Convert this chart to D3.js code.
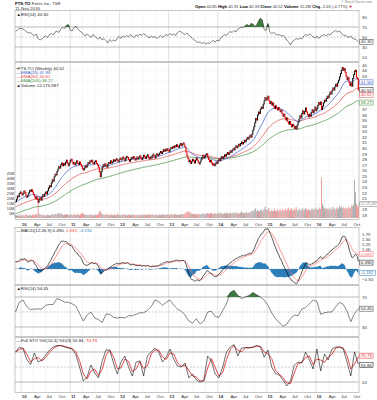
<!DOCTYPE html>
<html>
<head>
<meta charset="utf-8">
<script src="https://cdn.jsdelivr.net/npm/d3@7/dist/d3.min.js"></script>
<style>
  body { margin: 0; background: #fff; }
  svg { display: block; font-family: "Liberation Sans", Arial, sans-serif; }
  .lbl { font-size: 4.4px; fill: #333; }
</style>
</head>
<body>
<svg id="chart" width="377" height="400"></svg>
<script>
// ---- data (weekly) ----
var firstWeek = "2009-11-20";

var closes = [
  20.4, 20.9, 21.5, 21.3, 21.9, 22.2,
  22.0, 21.6, 21.9, 22.4, 22.1, 21.5, 21.2, 21.6, 22.0, 22.5, 22.3, 22.6, 22.2,
  21.8, 21.4, 21.0, 21.3, 20.8, 20.3, 20.9, 21.2, 20.7,
  21.3, 21.7, 21.4, 21.9, 22.2, 21.8, 22.4,
  22.9, 23.3, 23.1, 23.8, 24.4, 24.1, 24.9, 25.4, 25.2, 25.9, 26.3,
  26.8, 26.5, 27.1, 27.4, 26.9, 27.3, 27.0,
  27.5, 27.9, 27.3, 26.9, 27.4, 27.8, 28.1, 27.6,
  27.2, 27.5, 27.0, 27.4, 27.8, 27.3, 27.1, 27.6, 27.2, 26.8,
  26.4, 26.1, 26.5, 26.9, 26.6,
  27.1, 27.5, 27.3, 27.8, 27.6, 27.9, 27.4, 27.2, 27.6, 27.8, 27.3, 27.0, 26.6,
  25.8, 24.9, 25.9,
  26.6, 27.1, 26.8, 27.3, 27.0, 26.6, 27.2, 27.5, 27.3, 27.8, 27.4, 27.6, 28.0, 27.7, 27.9, 28.2, 27.8,
  27.6, 28.0, 28.3, 27.9, 28.1, 28.5, 28.2, 27.8, 28.3, 28.6, 28.4, 28.0, 27.7, 28.1, 28.4, 28.2, 28.6, 28.3, 27.9, 28.2, 28.5, 28.1,
  28.4, 28.7, 28.3, 28.0, 28.4, 28.8, 28.5, 28.2, 28.6, 28.9, 28.4, 28.1, 28.5, 28.3, 28.7, 29.0, 28.6, 28.3, 28.8, 29.1, 28.7, 28.9,
  29.2, 29.5, 29.1, 29.4, 29.8, 29.5, 29.9, 29.6, 30.0, 29.7, 29.4, 29.9, 30.2,
  30.0, 30.4, 30.1, 30.5, 30.3, 30.7, 30.4, 30.2, 30.6, 30.9, 30.5, 30.8, 31.0, 30.6, 30.2,
  29.4, 28.7, 28.2, 27.6, 27.9, 27.3, 27.7,
  28.1, 27.8, 27.4, 27.9, 28.3, 27.9, 27.5, 27.2, 27.6, 28.0, 28.4, 28.8, 28.3,
  28.6, 28.9, 29.1, 28.5, 28.0, 27.6, 27.9, 27.4, 27.0, 27.3, 26.9, 27.2, 27.6, 27.3, 27.8,
  28.1, 27.8, 28.3, 28.6, 28.2, 28.5, 28.9, 28.6, 29.0, 29.3, 28.9, 29.2, 29.6, 29.3, 29.7,
  30.0, 29.7, 30.2, 30.5, 30.1, 30.4, 30.8, 30.5, 30.9, 31.2, 30.8, 31.1, 31.5, 31.2, 31.6, 32.0, 31.7, 32.1, 32.4, 32.0,
  32.6, 33.3, 33.9, 34.6, 35.4, 35.1, 36.0, 36.6,
  36.3, 37.1, 37.5, 37.2, 38.0, 38.6, 39.2, 38.7,
  39.0, 39.4, 38.6, 38.1, 38.5, 37.8, 38.2, 37.6, 37.2, 37.7, 37.3, 36.9, 37.4, 37.0,
  36.6, 36.9, 36.3, 35.8, 36.2, 35.6, 35.1, 35.5, 34.8, 34.4, 34.9, 34.3, 33.9, 34.4, 34.1,
  33.6, 34.0, 33.5, 34.2, 34.7,
  35.3, 35.9, 35.5, 36.3, 36.8, 36.2, 36.7, 37.3, 36.6, 36.1,
  35.7, 36.2, 35.8, 36.5, 37.0, 36.4, 36.9, 37.5, 36.8, 37.2,
  37.8, 38.3, 37.9, 38.4, 37.0, 37.6, 38.2, 38.7, 38.5, 39.0,
  39.4, 39.1, 39.7, 40.2, 39.8, 40.4, 40.9, 40.5, 41.1, 41.6, 41.2, 41.8, 42.3, 42.9, 43.5,
  44.1, 44.6, 44.0, 44.4, 43.7,
  43.0, 42.4, 42.8, 41.9, 41.3, 41.8, 41.2,
  42.6, 43.3, 43.9, 44.1,
  42.8, 42.55, 40.52
];

// weekly volume, millions
var volumes = [
  3.1, 2.4, 2.8, 2.2, 3.5, 1.9,
  2.6, 3.3, 2.1, 2.9, 2.4, 3.8, 3.0, 2.5, 2.2, 3.1, 2.7, 2.3, 2.9,
  3.4, 2.6, 4.1, 2.8, 3.6, 22.5, 4.4, 3.1, 3.7,
  2.9, 2.4, 3.2, 2.6, 2.1, 2.8, 3.3,
  3.0, 2.7, 2.5, 3.6, 3.9, 2.8, 3.4, 4.2, 3.1, 3.8, 4.5,
  5.2, 3.6, 3.9, 4.8, 3.3, 2.9, 3.5,
  3.2, 4.0, 3.7, 2.8, 3.1, 2.6, 3.9, 2.7,
  3.4, 2.9, 3.8, 3.2, 2.7, 4.1, 3.3, 2.8, 3.5, 4.3,
  5.1, 4.2, 3.6, 3.1, 2.9,
  3.3, 2.7, 3.0, 3.9, 2.6, 3.4, 2.8, 3.1, 2.5, 3.7, 2.9, 3.5, 4.0,
  6.2, 7.4, 4.8,
  3.9, 3.2, 3.6, 2.9, 3.4, 4.1, 3.0, 2.7, 3.3, 2.8, 3.6, 3.1, 2.6, 3.8, 2.4, 3.2, 4.4,
  3.5, 2.9, 3.1, 2.6, 3.7, 2.8, 3.3, 4.0, 2.7, 3.2, 2.5, 3.6, 2.9, 3.4, 2.6, 3.1, 3.8, 2.7, 3.0, 2.4, 3.3, 2.8,
  3.0, 2.6, 3.4, 2.9, 3.7, 2.5, 3.2, 2.8, 3.5, 2.7, 3.1, 4.2, 2.9, 3.3, 2.6, 3.8, 3.0, 2.4, 3.6, 2.7, 3.2, 2.3,
  3.6, 3.1, 2.8, 3.9, 3.3, 2.7, 3.5, 3.0, 4.1, 3.2, 2.9, 3.7, 3.4,
  3.8, 3.1, 2.9, 4.3, 3.5, 3.0, 3.7, 2.8, 3.4, 3.9, 3.2, 4.0, 3.6, 3.3, 4.5,
  5.8, 6.4, 5.2, 6.9, 4.7, 5.5, 4.3,
  4.0, 3.6, 4.4, 3.5, 3.9, 3.2, 4.6, 3.8, 3.4, 4.1, 3.7, 4.9, 3.6,
  4.2, 3.8, 4.5, 5.1, 4.4, 3.9, 4.8, 5.3, 4.1, 3.7, 5.0, 4.6, 3.9, 4.3, 5.6,
  4.8, 4.2, 5.4, 4.5, 3.9, 4.7, 5.1, 4.3, 5.8, 4.6, 4.0, 4.9, 5.5, 4.4, 4.8,
  5.2, 4.6, 5.9, 4.3, 4.8, 5.5, 4.1, 4.7, 5.3, 6.8, 4.9, 5.4, 4.5, 5.1, 6.0, 4.8, 5.6, 5.0, 6.3, 5.7,
  6.9, 7.8, 6.2, 8.5, 9.7, 6.4, 8.0, 7.3,
  6.6, 7.9, 8.8, 6.5, 7.6, 9.2, 11.5, 8.3,
  7.4, 8.6, 9.9, 7.0, 6.4, 8.1, 7.2, 6.8, 9.4, 6.6, 7.5, 8.7, 6.2, 7.7,
  8.4, 6.9, 7.8, 9.1, 6.5, 8.2, 9.6, 7.1, 8.9, 10.4, 7.3, 8.6, 9.8, 7.0, 8.1,
  9.3, 7.6, 10.8, 8.2, 7.4,
  8.8, 9.5, 7.2, 8.4, 9.9, 7.7, 8.3, 10.2, 8.9, 7.5,
  9.1, 8.0, 7.3, 8.7, 9.6, 7.9, 8.5, 10.1, 8.2, 9.4,
  9.0, 8.3, 10.6, 8.8, 40.5, 14.2, 11.3, 9.7, 8.6, 10.1,
  8.7, 9.3, 7.9, 10.4, 8.5, 9.1, 11.2, 8.3, 9.8, 7.6, 10.7, 8.9, 9.5, 12.1, 10.3,
  11.4, 9.6, 10.8, 8.7, 9.9,
  10.5, 8.8, 9.7, 11.6, 9.2, 10.3, 12.4,
  11.8, 13.5, 38.2, 25.6,
  14.1, 11.3, 12.2
];

// top RSI panel, one value every second week
var rsiTop = [
  61, 64, 67, 67, 66, 63, 60, 58, 59, 55, 53, 56, 47, 44, 46, 50, 52, 49, 55, 57, 54, 60, 62, 59,
  66, 69, 67, 73, 75, 64, 62, 69, 71, 67, 62, 60, 55, 52, 56, 53, 49, 55, 52, 48, 46, 50, 44, 47,
  43, 38, 45, 41, 44, 42, 48, 51, 47, 52, 50, 53, 50, 55, 51, 49, 54, 52, 56, 53, 57, 54, 51, 48,
  52, 49, 51, 47, 50, 53, 49, 52, 55, 53, 57, 54, 56, 53, 59, 62, 60, 57, 55, 58, 54, 50, 47, 44,
  41, 39, 40, 37, 39, 36, 38, 37, 41, 43, 40, 44, 42, 48, 52, 55, 53, 58, 61, 59, 63, 60, 66, 68,
  70, 69, 73, 75, 72, 77, 76, 71, 74, 82, 88, 84, 65, 63, 77, 60, 57, 59, 56, 54, 55, 52, 53, 50,
  44, 40, 34, 41, 44, 47, 45, 48, 46, 52, 55, 53, 56, 54, 50, 48, 52, 47, 51, 53, 55, 52, 56, 54,
  58, 61, 63, 60, 62, 57, 54, 53, 51, 49, 52, 47, 46, 44, 40.3
];

// lower RSI panel, one value every fourth week
var rsiLow = [
  50, 63, 66, 57, 53, 54, 54, 54, 59, 60, 60, 68, 66, 63, 63, 61, 58, 48, 38, 46, 50, 42, 40, 36,
  47, 47, 43, 42, 43, 42, 45, 45, 47, 49, 49, 52, 57, 66, 64, 59, 63, 66, 59, 54, 51, 46, 38, 35,
  41, 34, 38, 50, 51, 44, 43, 52, 61, 76, 79, 72, 68, 70, 72, 76, 73, 70, 66, 59, 49, 41, 36, 31,
  34, 41, 46, 45, 54, 56, 61, 66, 64, 47, 49, 50, 50, 57, 63, 60, 51, 37, 48, 54.45
];

// full stochastics %K, one value every fourth week
var stoK = [
  80, 90, 86, 65, 55, 78, 60, 64, 74, 84, 90, 93, 93, 90, 88, 86, 75, 50, 22, 30, 54, 38, 28, 62,
  84, 84, 58, 36, 60, 72, 50, 32, 60, 62, 32, 72, 80, 88, 80, 60, 70, 86, 66, 52, 50, 58, 28, 36,
  24, 20, 24, 72, 62, 36, 28, 50, 80, 90, 95, 72, 88, 89, 88, 90, 93, 90, 70, 84, 50, 37, 34, 24,
  12, 22, 54, 60, 58, 80, 64, 46, 86, 42, 76, 64, 86, 90, 90, 86, 60, 32, 80, 55.84
];

// indicator seeds (values at the left edge of the picture)
var emaSeeds = { e20: 20.4, e50: 19.5, e100: 18.2, e12: 20.9, e26: 20.45, sig: 0.35 };

// axis labels
var priceTicks = [18, 19, 20, 21, 22, 23, 24, 25, 26, 27, 28, 29, 30, 31, 32, 33, 34, 35, 36, 37, 38, 39, 40, 41, 42, 43, 44, 45];
var volTicks = [5, 10, 15, 20, 25, 30, 35, 40, 45];
var macdTicks = [1.75, 1.5, 1.25, 1.0, 0.75, 0.5, 0.25, 0.0, -0.25, -0.5];
var rsiTopTicks = [90, 70, 50, 30, 10];
var rsiTicks = [70, 50, 30];
var stoTicks = [80, 50, 20];

// ---- layout ----
var svg = d3.select("#chart");
var defs = svg.append("defs");
var X0 = 15, X1 = 359;

var parseDate = d3.timeParse("%Y-%m-%d");
var start = parseDate(firstWeek);
var n = Math.min(closes.length, volumes.length);
var dates = d3.range(n).map(function(i) { return d3.timeDay.offset(start, 7 * i); });
// sampled series sit on every 2nd / 4th week; last sample on the last week
function sampleDate(k, step, len) {
  return k === len - 1 ? dates[n - 1] : dates[Math.min(n - 1, k * step)];
}

var x = d3.scaleTime()
  .domain([parseDate("2009-11-16"), parseDate("2016-11-16")])
  .range([X0, X1]);

var quarters = d3.timeMonth.every(3).range(parseDate("2010-01-01"), parseDate("2016-11-01"));

var yRsiTop = d3.scaleLinear().domain([70, 30]).range([27, 47]);
var yPrice = d3.scaleLinear().domain([44, 22]).range([70.7, 193]);
var yVol = d3.scaleLinear().domain([0, 40]).range([218, 178]);
var yMacd = d3.scaleLinear().domain([0, 1]).range([269, 249]);
var yRsi = d3.scaleLinear().domain([70, 30]).range([297, 327]);
var ySto = d3.scaleLinear().domain([80, 20]).range([352, 382]);

// ---- indicators ----
function ema(vals, len, seed) {
  var k = 2 / (len + 1), prev = seed;
  return vals.map(function(v) { prev = v * k + prev * (1 - k); return prev; });
}

var c = closes.slice(0, n);
var ema20 = ema(c, 20, emaSeeds.e20);
var ema50 = ema(c, 50, emaSeeds.e50);
var ema100 = ema(c, 100, emaSeeds.e100);
var e12 = ema(c, 12, emaSeeds.e12), e26 = ema(c, 26, emaSeeds.e26);
var macd = e12.map(function(v, i) { return v - e26[i]; });
var signal = ema(macd, 9, emaSeeds.sig);
var hist = macd.map(function(v, i) { return v - signal[i]; });
// %D: average of the current and previous %K sample
var stoD = stoK.map(function(v, k) { return k ? (v + stoK[k - 1]) / 2 : v; });
stoD[stoD.length - 1] = 70.73;

// ---- helpers ----
function addPanel(id, top, bottom) {
  svg.append("rect")
    .attr("x", X0).attr("y", top)
    .attr("width", X1 - X0).attr("height", bottom - top)
    .attr("fill", "#fff").attr("stroke", "#a0a0a0").attr("stroke-width", 0.6);
  defs.append("clipPath").attr("id", id)
    .append("rect").attr("x", X0).attr("y", top).attr("width", X1 - X0).attr("height", bottom - top);
  var g = svg.append("g").attr("clip-path", "url(#" + id + ")");
  quarters.forEach(function(q) {
    var isYear = q.getMonth() === 0;
    g.append("line")
      .attr("x1", x(q)).attr("x2", x(q)).attr("y1", top).attr("y2", bottom)
      .attr("stroke", isYear ? "#c4c4c4" : "#dedede")
      .attr("stroke-width", 0.5)
      .attr("stroke-dasharray", isYear ? null : "1,1");
  });
  return g;
}
function hLine(g, y, style) {
  g.append("line").attr("x1", X0).attr("x2", X1).attr("y1", y).attr("y2", y)
    .attr("stroke", style === "solid" ? "#8c8c8c" : (style === "dash" ? "#9a9a9a" : "#e4e4e4"))
    .attr("stroke-width", style === "solid" ? 0.6 : 0.5)
    .attr("stroke-dasharray", style === "solid" ? null : (style === "dash" ? "2,1.5" : "1,1"));
}
// tick labels on the right; skip the ones hidden under value boxes
function rightLabels(scale, ticks, fmt, boxes) {
  ticks.forEach(function(t) {
    var y = scale(t);
    var hidden = (boxes || []).some(function(b) { return Math.abs(b - y) < 4.4; });
    if (hidden) return;
    svg.append("text").attr("class", "lbl")
      .attr("x", X1 + 3).attr("y", y + 1.5).text(fmt ? fmt(t) : t);
  });
}
function valueBox(y, txt, col, size) {
  var fs = size || 4.4;
  var w = txt.length * fs * 0.51 + 2;
  svg.append("rect").attr("x", X1 + 0.8).attr("y", y - 2.5).attr("width", w).attr("height", 5)
    .attr("fill", "#fff").attr("stroke", col).attr("stroke-width", 0.5);
  svg.append("text").attr("class", "lbl").attr("x", X1 + 1.8).attr("y", y + 1.5)
    .style("fill", col).style("font-size", fs + "px").text(txt);
}
function panelLabel(y, parts) {
  var t = svg.append("text").attr("class", "lbl").attr("x", X0 + 1.5).attr("y", y);
  parts.forEach(function(p) {
    t.append("tspan").style("fill", p[1] || "#222").text(p[0]);
  });
}
function xLabels(y) {
  var fy = d3.timeFormat("%y"), fm = d3.timeFormat("%b");
  quarters.forEach(function(q) {
    var isYear = q.getMonth() === 0;
    svg.append("text").attr("class", "lbl")
      .attr("x", x(q) + 0.6).attr("y", y)
      .style("font-weight", isYear ? "bold" : "normal")
      .text(isYear ? fy(q) : fm(q));
  });
}
var lineOf = function(scale, arr) {
  return d3.line().x(function(d, i) { return x(dates[i]); }).y(function(d) { return scale(d); })(arr);
};
var sampledLine = function(scale, arr, step) {
  return d3.line()
    .x(function(d, k) { return x(sampleDate(k, step, arr.length)); })
    .y(function(d) { return scale(d); })(arr);
};
var sampledFill = function(scale, arr, step, level) {
  return d3.area()
    .x(function(d, k) { return x(sampleDate(k, step, arr.length)); })
    .y0(scale(level))
    .y1(function(d) { return scale(Math.max(d, level)); })(arr);
};

// ---- header ----
var head = svg.append("text").attr("class", "lbl").attr("x", X0).attr("y", 4.6);
head.append("tspan").style("font-weight", "bold").style("fill", "#000").text("FTS.TO ");
head.append("tspan").text("Fortis Inc.  TSE");
svg.append("text").attr("class", "lbl").attr("x", X0).attr("y", 9.6).text("11-Nov-2016");
svg.append("text").attr("class", "lbl").attr("x", X1 - 18).attr("y", 3.2)
  .style("font-size", "3.6px").style("fill", "#888").text("\u00a9 StockCharts.com");
var info = svg.append("text").attr("class", "lbl").attr("x", 195).attr("y", 8.2).style("font-size", "4.1px");
[["Open", "40.85"], ["High", "40.91"], ["Low", "40.33"], ["Close", "40.52"], ["Volume", "12.2M"], ["Chg", "-2.03 (-4.77%)"]]
  .forEach(function(p) {
    info.append("tspan").style("font-weight", "bold").style("fill", "#000").text(p[0] + " ");
    info.append("tspan").text(p[1] + "  ");
  });
info.append("tspan").style("fill", "#d00").text("\u25bc");

// ---- top RSI panel ----
var gTop = addPanel("cTop", 10.5, 61.5);
hLine(gTop, yRsiTop(70), "solid");
hLine(gTop, yRsiTop(50), "dash");
hLine(gTop, yRsiTop(30), "solid");
gTop.append("path").attr("d", sampledFill(yRsiTop, rsiTop, 2, 70)).attr("fill", "#3f7a3f");
gTop.append("path").attr("d", sampledLine(yRsiTop, rsiTop, 2))
  .attr("fill", "none").attr("stroke", "#333").attr("stroke-width", 0.6);
rightLabels(yRsiTop, rsiTopTicks, null, [yRsiTop(40.3)]);
valueBox(yRsiTop(40.3), "40.30", "#333");
panelLabel(15.5, [["\u25b2RSI(14) 40.30"]]);

// ---- price panel ----
var gP = addPanel("cPrice", 62.5, 219.5);
priceTicks.filter(function(t) { return t % 2 === 0; }).forEach(function(t) { hLine(gP, yPrice(t), "dot"); });

gP.selectAll(".vol").data(volumes.slice(0, n)).enter().append("rect")
  .attr("class", "vol")
  .attr("x", function(d, i) { return x(dates[i]) - 0.45; })
  .attr("width", 0.9)
  .attr("y", function(d) { return yVol(d); })
  .attr("height", function(d) { return yVol(0) - yVol(d); })
  .attr("fill", function(d, i) { return i > 0 && c[i] < c[i - 1] ? "#ef8f8f" : "#a8a8a8"; });

gP.append("path").attr("d", lineOf(yPrice, ema100)).attr("fill", "none").attr("stroke", "#3a8a3a").attr("stroke-width", 0.7);
gP.append("path").attr("d", lineOf(yPrice, ema50)).attr("fill", "none").attr("stroke", "#e04848").attr("stroke-width", 0.7);
gP.append("path").attr("d", lineOf(yPrice, ema20)).attr("fill", "none").attr("stroke", "#3555c8").attr("stroke-width", 0.7);

gP.selectAll(".bar").data(c).enter().append("line")
  .attr("class", "bar")
  .attr("x1", function(d, i) { return x(dates[i]); })
  .attr("x2", function(d, i) { return x(dates[i]); })
  .attr("y1", function(d, i) { return yPrice(i ? c[i - 1] : d) + (i && c[i - 1] > d ? -0.4 : 0.4); })
  .attr("y2", function(d, i) { return yPrice(d) + (i && c[i - 1] > d ? 0.4 : -0.4); })
  .attr("stroke", function(d, i) { return i > 0 && d < c[i - 1] ? "#e00000" : "#111"; })
  .attr("stroke-width", 1.1);

var volBoxY = yVol(12.2) - 2;
var priceBoxes = [yPrice(41.9), yPrice(40.52), yPrice(40.61) + 5.2, yPrice(38.27)];
rightLabels(yPrice, priceTicks, null, priceBoxes.concat([volBoxY]));
volTicks.forEach(function(t) {
  svg.append("text").attr("class", "lbl").attr("x", X0 - 0.8).attr("y", yVol(t) + 1.5)
    .attr("text-anchor", "end").style("font-size", "3.8px").text(t + "M");
});
valueBox(priceBoxes[0], "41.90", "#3555c8");
valueBox(priceBoxes[1], "40.52", "#111");
valueBox(priceBoxes[2], "40.61", "#e04848");
valueBox(priceBoxes[3], "38.27", "#3a8a3a");
valueBox(volBoxY, "12,175,587", "#777", 3.2);

panelLabel(69.8, [["\u25aaFTS.TO (Weekly) 40.52"]]);
panelLabel(74.0, [["\u2014EMA(20) 41.90", "#3555c8"]]);
panelLabel(78.2, [["\u2014EMA(50) 40.61", "#e04848"]]);
panelLabel(82.4, [["\u2014EMA(100) 38.27", "#3a8a3a"]]);
panelLabel(86.6, [["\u25b2Volume 12,175,587"]]);

xLabels(225.5);

// ---- MACD panel ----
var gM = addPanel("cMacd", 227.5, 284.5);
[1.5, 1.0, 0.5, -0.5].forEach(function(t) { hLine(gM, yMacd(t), "dot"); });
hLine(gM, yMacd(0), "dash");
gM.append("path")
  .attr("d", d3.area()
    .x(function(d, i) { return x(dates[i]); })
    .y0(yMacd(0))
    .y1(function(d) { return yMacd(d); })(hist))
  .attr("fill", "#2c7db8");
gM.append("path").attr("d", lineOf(yMacd, signal)).attr("fill", "none").attr("stroke", "#ff6e6e").attr("stroke-width", 0.7);
gM.append("path").attr("d", lineOf(yMacd, macd)).attr("fill", "none").attr("stroke", "#111").attr("stroke-width", 0.7);
var macdBoxes = [yMacd(0.683) - 1.2, yMacd(0.49) + 3.4, yMacd(-0.192)];
rightLabels(yMacd, macdTicks, d3.format(".2f"), macdBoxes);
valueBox(macdBoxes[0], "0.683", "#ff6e6e");
valueBox(macdBoxes[1], "0.490", "#111");
valueBox(macdBoxes[2], "-0.192", "#2c7db8");
panelLabel(231.8, [["\u2014MACD(12,26,9) 0.490, "], ["0.683", "#ff5555"], [", -0.192", "#2c7db8"]]);

// ---- lower RSI panel ----
var gR = addPanel("cRsi", 285.5, 336.5);
hLine(gR, yRsi(70), "solid");
hLine(gR, yRsi(50), "dash");
hLine(gR, yRsi(30), "solid");
gR.append("path").attr("d", sampledFill(yRsi, rsiLow, 4, 70)).attr("fill", "#3f7a3f");
gR.append("path").attr("d", sampledLine(yRsi, rsiLow, 4))
  .attr("fill", "none").attr("stroke", "#333").attr("stroke-width", 0.6);
rightLabels(yRsi, rsiTicks, null, [yRsi(54.45)]);
valueBox(yRsi(54.45), "54.45", "#333");
panelLabel(289.8, [["\u25b2RSI(14) 54.45"]]);

// ---- full stochastics panel ----
var gS = addPanel("cSto", 337.5, 392.5);
hLine(gS, ySto(80), "solid");
hLine(gS, ySto(50), "dash");
hLine(gS, ySto(20), "solid");
gS.append("path").attr("d", sampledLine(ySto, stoD, 4)).attr("fill", "none").attr("stroke", "#e02020").attr("stroke-width", 0.8);
gS.append("path").attr("d", sampledLine(ySto, stoK, 4)).attr("fill", "none").attr("stroke", "#111").attr("stroke-width", 0.6);
var stoBoxes = [ySto(70.73) - 1, ySto(55.84) + 1];
rightLabels(ySto, stoTicks, null, stoBoxes);
valueBox(stoBoxes[0], "70.73", "#e02020");
valueBox(stoBoxes[1], "55.84", "#111");
panelLabel(341.6, [["\u2014Full STO %K(14,3) %D(3) 55.84, "], ["70.73", "#e02020"]]);

xLabels(397.6);
</script>
</body>
</html>
